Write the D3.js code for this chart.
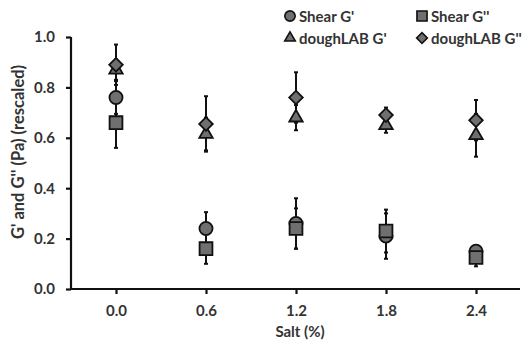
<!DOCTYPE html>
<html><head><meta charset="utf-8">
<script src="https://cdn.jsdelivr.net/npm/d3@7"></script>
<style>body{margin:0;background:#fff}svg{display:block}text{font-family:Lato,"Open Sans",sans-serif;font-weight:bold;fill:#333}</style>
</head><body>
<script>
const salt = [0.0, 0.6, 1.2, 1.8, 2.4];
const xTickLabels = ["0.0","0.6","1.2","1.8","2.4"];
const yTicks = [0,0.2,0.4,0.6,0.8,1.0];
const shearGp = [0.76, 0.24, 0.26, 0.21, 0.15];
const shearGpErr = [0.065, 0.065, 0.10, 0.09, 0.01];
const shearGpp = [0.66, 0.16, 0.24, 0.23, 0.125];
const shearGppErr = [0.10, 0.06, 0.08, 0.085, 0.035];
const doughGp = [0.87, 0.615, 0.68, 0.65, 0.61];
const doughGpErr = [0.04, 0.065, 0.05, 0.03, 0.085];
const doughGpp = [0.89, 0.655, 0.76, 0.69, 0.67];
const doughGppErr = [0.08, 0.11, 0.10, 0.03, 0.08];
const seriesNames = ["Shear G'", "Shear G''", "doughLAB G'", "doughLAB G''"];

const W=524,H=347;
const svg=d3.select("body").append("svg").attr("width",W).attr("height",H);
const x=d3.scaleLinear().domain([-0.3,2.7]).range([71,521]);
const y=d3.scaleLinear().domain([0,1]).range([289,37]);

const series=[
 {name:seriesNames[0],v:shearGp,e:shearGpErr,sym:d3.symbolCircle,size:135,rot:0},
 {name:seriesNames[1],v:shearGpp,e:shearGppErr,sym:d3.symbolSquare,size:165,rot:0},
 {name:seriesNames[2],v:doughGp,e:doughGpErr,sym:d3.symbolTriangle,size:78,rot:0},
 {name:seriesNames[3],v:doughGpp,e:doughGppErr,sym:d3.symbolSquare,size:92,rot:45}
];
const fill="#6f6f6f";

// axes
const yAxis=svg.append("g").attr("transform","translate(71,0)")
 .call(d3.axisLeft(y).tickValues(yTicks).tickFormat(d3.format(".1f")).tickSize(5).tickSizeOuter(0));
const xAxis=svg.append("g").attr("transform","translate(0,289)")
 .call(d3.axisBottom(x).tickValues(salt).tickFormat((d,i)=>xTickLabels[i]).tickSize(5).tickSizeOuter(0));
[yAxis,xAxis].forEach(a=>{
 a.select(".domain").attr("stroke","#111").attr("stroke-width",2.2);
 a.selectAll(".tick line").attr("stroke","#111").attr("stroke-width",2.2);
 a.selectAll(".tick text").attr("font-size",15).style("font-family","Lato, 'Open Sans', sans-serif").style("font-weight","bold").attr("fill","#333");
});
yAxis.selectAll(".tick text").attr("x",-16);
xAxis.selectAll(".tick text").attr("y",27).attr("dy",0);
yAxis.select(".domain").attr("d","M0,37V290");
xAxis.select(".domain").attr("d","M70,0H520");

svg.append("text").attr("transform","translate(24,152) rotate(-90)").attr("text-anchor","middle").attr("font-size",16.5).text("G' and G'' (Pa) (rescaled)");
svg.append("text").attr("x",300).attr("y",337).attr("text-anchor","middle").attr("font-size",15).text("Salt (%)");

// error bars
series.forEach(s=>{
 const g=svg.append("g");
 s.v.forEach((v,i)=>{
  const cx=x(salt[i]);
  g.append("line").attr("x1",cx).attr("x2",cx).attr("y1",y(v-s.e[i])).attr("y2",y(v+s.e[i])).attr("stroke","#111").attr("stroke-width",2);
  [v-s.e[i],v+s.e[i]].forEach(t=>g.append("line").attr("x1",cx-2).attr("x2",cx+2).attr("y1",y(t)).attr("y2",y(t)).attr("stroke","#111").attr("stroke-width",2));
 });
});
// markers
series.forEach(s=>{
 svg.append("g").selectAll("path").data(s.v).join("path")
  .attr("d",d3.symbol().type(s.sym).size(s.size))
  .attr("transform",(d,i)=>`translate(${x(salt[i])},${y(d)}) rotate(${s.rot})`)
  .attr("fill",fill).attr("stroke","#111").attr("stroke-width",1.8);
});

// legend
const leg=[[290,16],[422,16],[290,38],[422,38]];
series.forEach((s,i)=>{
 const [lx,ly]=leg[i];
 svg.append("path").attr("d",d3.symbol().type(s.sym).size(s.size*0.62)).attr("transform",`translate(${lx},${ly}) rotate(${s.rot})`)
  .attr("fill",fill).attr("stroke","#111").attr("stroke-width",1.6);
 svg.append("text").attr("x",lx+9).attr("y",ly+5.5).attr("font-size",15).text(s.name);
});
</script>
</body></html>
